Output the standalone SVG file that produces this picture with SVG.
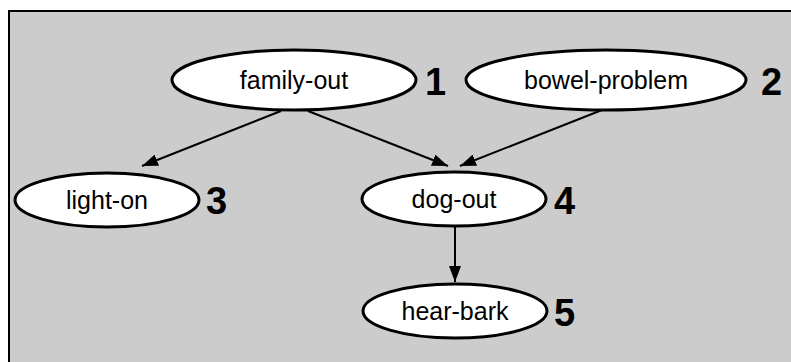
<svg xmlns="http://www.w3.org/2000/svg" width="791" height="362" viewBox="0 0 791 362">
<style>
.node ellipse{fill:#fff;stroke:#000;stroke-width:3}
.lbl{font-family:"Liberation Sans",Arial,sans-serif;font-size:25px;fill:#000;text-anchor:middle}
.num{font-family:"Liberation Sans",Arial,sans-serif;font-size:38px;font-weight:bold;fill:#000}
.edge{stroke:#000;stroke-width:2;fill:none;marker-end:url(#arr)}
</style>
<defs>
<marker id="arr" markerUnits="userSpaceOnUse" markerWidth="17" markerHeight="12" refX="16" refY="6" orient="auto">
<path d="M0,0 L16,6 L0,12 Z" fill="#000"/>
</marker>
</defs>
<rect x="9" y="11" width="800" height="360" fill="#cccccc" stroke="#000" stroke-width="2"/>
<g id="connectors">
<line class="edge" x1="281" y1="111" x2="142" y2="166"/>
<line class="edge" x1="308" y1="111" x2="448" y2="166"/>
<line class="edge" x1="602" y1="110" x2="460" y2="166"/>
<line class="edge" x1="455" y1="227" x2="455" y2="282"/>
</g>
<g id="family-out" class="node">
<ellipse cx="294" cy="80" rx="122" ry="30"/>
<text class="lbl" x="294" y="89">family-out</text>
<text class="num" x="425" y="95">1</text>
</g>
<g id="bowel-problem" class="node">
<ellipse cx="606" cy="80" rx="140" ry="30"/>
<text class="lbl" x="606" y="89">bowel-problem</text>
<text class="num" x="761" y="95">2</text>
</g>
<g id="light-on" class="node">
<ellipse cx="107" cy="200" rx="92" ry="27"/>
<text class="lbl" x="107" y="209">light-on</text>
<text class="num" x="206" y="214">3</text>
</g>
<g id="dog-out" class="node">
<ellipse cx="454" cy="199" rx="92" ry="27"/>
<text class="lbl" x="454" y="208">dog-out</text>
<text class="num" x="554" y="214">4</text>
</g>
<g id="hear-bark" class="node">
<ellipse cx="455" cy="311" rx="92" ry="27"/>
<text class="lbl" x="455" y="320">hear-bark</text>
<text class="num" x="554" y="326">5</text>
</g>
</svg>
